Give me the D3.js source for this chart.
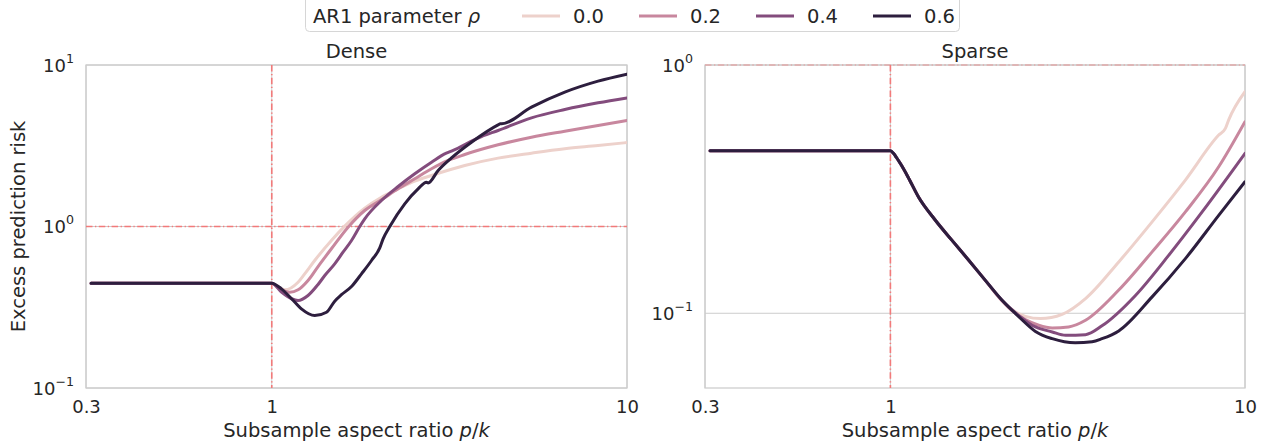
<!DOCTYPE html>
<html>
<head>
<meta charset="utf-8">
<script src="https://cdn.jsdelivr.net/npm/d3@7"></script>
<style>
  html, body { margin: 0; padding: 0; background: #fff; }
  svg { display: block; font-family: "DejaVu Sans", sans-serif; }
</style>
</head>
<body>
<svg id="chart" width="1273" height="446"></svg>
<script>
// ---------------- data ----------------
const rhoLabels = ["0.0", "0.2", "0.4", "0.6"];
const xTicks = [0.3, 1, 10];
const xTickLabels = ["0.3", "1", "10"];
const denseYTicks = [0.1, 1, 10];
const denseYExps = ["\u22121", "0", "1"];
const sparseYTicks = [0.1, 1];
const sparseYExps = ["\u22121", "0"];

// Dense panel: [p/k, excess risk]
const dense00 = [[0.31,0.446],[1.0,0.446],[1.02,0.4375],[1.088,0.4055],[1.186,0.452],[1.238,0.509],[1.321,0.616],[1.472,0.819],[1.605,1.005],[1.827,1.299],[2.036,1.519],[2.268,1.711],[2.527,1.909],[2.817,2.07],[3.494,2.386],[4.336,2.65],[5.384,2.845],[6.682,3.03],[8.29,3.17],[10,3.31]];
const dense02 = [[0.31,0.446],[1.0,0.446],[1.053,0.411],[1.124,0.392],[1.186,0.4055],[1.265,0.463],[1.35,0.565],[1.472,0.728],[1.64,0.99],[1.827,1.256],[2.036,1.463],[2.268,1.711],[2.527,1.974],[2.817,2.277],[3.135,2.563],[3.494,2.791],[4.336,3.205],[5.384,3.573],[6.682,3.89],[8.29,4.22],[10,4.54]];
const dense04 = [[0.31,0.446],[1.0,0.446],[1.065,0.392],[1.137,0.357],[1.186,0.348],[1.265,0.374],[1.35,0.4375],[1.41,0.497],[1.504,0.587],[1.587,0.693],[1.677,0.819],[1.769,1.0],[1.827,1.116],[2.036,1.449],[2.268,1.769],[2.527,2.119],[2.817,2.5],[3.10,2.843],[3.206,2.928],[3.894,3.608],[4.336,3.93],[5.384,4.71],[6.682,5.30],[8.29,5.83],[10,6.25]];
const dense06 = [[0.31,0.446],[1.0,0.446],[1.065,0.411],[1.137,0.357],[1.212,0.309],[1.321,0.281],[1.426,0.2947],[1.504,0.345],[1.571,0.378],[1.677,0.425],[1.789,0.509],[1.909,0.616],[2.014,0.738],[2.058,0.839],[2.149,1.0],[2.368,1.382],[2.582,1.711],[2.726,1.882],[2.755,1.862],[2.94,2.222],[3.206,2.66],[3.649,3.327],[4.336,4.26],[4.40,4.33],[4.44,4.33],[5.384,5.48],[6.682,6.79],[8.29,7.94],[10,8.78]];

// Sparse panel: [p/k, excess risk]
const sparse00 = [[0.31,0.451],[1.0,0.451],[1.02,0.441],[1.04,0.424],[1.07,0.398],[1.12,0.355],[1.2,0.294],[1.339,0.237],[1.49,0.197],[1.663,0.1636],[1.85,0.136],[2.02,0.116],[2.20,0.1035],[2.403,0.0972],[2.65,0.0952],[3.05,0.099],[3.55,0.1146],[4.405,0.161],[5.47,0.2335],[6.79,0.344],[8.43,0.522],[8.805,0.5553],[8.99,0.60],[10,0.781]];
const sparse02 = [[0.31,0.451],[1.0,0.451],[1.02,0.441],[1.04,0.424],[1.07,0.398],[1.12,0.355],[1.2,0.294],[1.339,0.237],[1.49,0.197],[1.663,0.1636],[1.85,0.136],[2.04,0.1145],[2.22,0.1015],[2.403,0.0943],[2.62,0.0895],[2.86,0.0873],[3.18,0.0881],[3.55,0.0937],[4.405,0.124],[5.47,0.1767],[6.79,0.256],[8.43,0.389],[10,0.591]];
const sparse04 = [[0.31,0.451],[1.0,0.451],[1.02,0.441],[1.04,0.424],[1.07,0.398],[1.12,0.355],[1.2,0.294],[1.339,0.237],[1.49,0.197],[1.663,0.1636],[1.85,0.136],[2.065,0.1128],[2.30,0.098],[2.509,0.0895],[2.86,0.0841],[3.12,0.0815],[3.55,0.082],[3.95,0.089],[4.91,0.118],[6.09,0.171],[7.57,0.256],[10,0.4405]];
const sparse06 = [[0.31,0.451],[1.0,0.451],[1.02,0.441],[1.04,0.424],[1.07,0.398],[1.12,0.355],[1.2,0.294],[1.339,0.237],[1.49,0.197],[1.663,0.1636],[1.85,0.136],[2.065,0.1128],[2.30,0.097],[2.565,0.0845],[2.86,0.079],[3.32,0.0760],[3.706,0.0768],[3.95,0.079],[4.405,0.0849],[5.47,0.1164],[6.79,0.166],[8.43,0.248],[10,0.3386]];

const colors = ["#edd1cb", "#c8879e", "#834c7d", "#2d1e3e"];

// ---------------- drawing ----------------
const svg = d3.select("#chart");
const textColor = "#262626";
const gridColor = "#cccccc";
const refColor = "#f27a7a";
const tickFont = 18;
const labelFont = 19.5;

const panels = [
  { title: "Dense", x0: 86, x1: 627, y0: 65, y1: 388, yDomain: [0.1, 10],
    yTicks: denseYTicks, yExps: denseYExps, series: [dense00, dense02, dense04, dense06], ylabel: true },
  { title: "Sparse", x0: 705, x1: 1245, y0: 65, y1: 388, yDomain: [0.05, 1],
    yTicks: sparseYTicks, yExps: sparseYExps, series: [sparse00, sparse02, sparse04, sparse06], ylabel: false }
];

panels.forEach((p, pi) => {
  const x = d3.scaleLog().domain([0.3, 10]).range([p.x0, p.x1]);
  const y = d3.scaleLog().domain(p.yDomain).range([p.y1, p.y0]);
  const g = svg.append("g");

  const clipId = "clip" + pi;
  svg.append("clipPath").attr("id", clipId).append("rect")
    .attr("x", p.x0).attr("y", p.y0).attr("width", p.x1 - p.x0).attr("height", p.y1 - p.y0);

  // grid lines
  g.append("g").selectAll("line.gx").data(xTicks).join("line")
    .attr("x1", d => x(d)).attr("x2", d => x(d)).attr("y1", p.y0).attr("y2", p.y1)
    .attr("stroke", gridColor).attr("stroke-width", 1);
  g.append("g").selectAll("line.gy").data(p.yTicks).join("line")
    .attr("x1", p.x0).attr("x2", p.x1).attr("y1", d => y(d)).attr("y2", d => y(d))
    .attr("stroke", gridColor).attr("stroke-width", 1);

  // spines
  g.append("rect").attr("x", p.x0).attr("y", p.y0)
    .attr("width", p.x1 - p.x0).attr("height", p.y1 - p.y0)
    .attr("fill", "none").attr("stroke", gridColor).attr("stroke-width", 1.25);

  // reference lines at x=1, y=1
  g.append("line").attr("x1", x(1)).attr("x2", x(1)).attr("y1", p.y0).attr("y2", p.y1)
    .attr("stroke", refColor).attr("stroke-width", 1.6).attr("stroke-dasharray", "6.5,2.5,1.3,2.5")
    .attr("opacity", 1);
  g.append("line").attr("x1", p.x0).attr("x2", p.x1).attr("y1", y(1)).attr("y2", y(1))
    .attr("stroke", refColor).attr("stroke-width", 1.6).attr("stroke-dasharray", "6.5,2.5,1.3,2.5")
    .attr("opacity", pi === 1 ? 0.45 : 1);

  // curves
  const line = d3.line().x(d => x(d[0])).y(d => y(d[1])).curve(d3.curveMonotoneX);
  g.append("g").attr("clip-path", `url(#${clipId})`)
    .selectAll("path").data(p.series).join("path")
    .attr("d", line).attr("fill", "none")
    .attr("stroke", (d, i) => colors[i]).attr("stroke-width", 3)
    .attr("stroke-linejoin", "round").attr("stroke-linecap", "round");

  // x tick labels
  const xAxis = d3.axisBottom(x).tickValues(xTicks).tickSize(0).tickPadding(0)
    .tickFormat((d, i) => xTickLabels[i]);
  const xa = g.append("g").attr("transform", `translate(0,${p.y1 + 25})`).call(xAxis);
  xa.select(".domain").remove();
  xa.selectAll("text").attr("fill", textColor).attr("font-size", tickFont)
    .attr("font-family", "DejaVu Sans").attr("dy", 0);

  // y tick labels with superscripts
  const yAxis = d3.axisLeft(y).tickValues(p.yTicks).tickSize(0).tickPadding(0).tickFormat(() => "");
  const ya = g.append("g").attr("transform", `translate(${p.x0 - 12},0)`).call(yAxis);
  ya.select(".domain").remove();
  ya.selectAll(".tick text").each(function(d, i) {
    const t = d3.select(this).attr("fill", textColor).attr("font-size", tickFont)
      .attr("font-family", "DejaVu Sans").attr("dy", "0.36em").attr("text-anchor", "end");
    t.append("tspan").text("10");
    t.append("tspan").attr("font-size", tickFont * 0.7).attr("dy", "-0.75em").text(p.yExps[i]);
  });

  // title
  g.append("text").attr("x", (p.x0 + p.x1) / 2).attr("y", p.y0 - 7)
    .attr("text-anchor", "middle").attr("fill", textColor).attr("font-size", labelFont)
    .text(p.title);

  // x label
  const xl = g.append("text").attr("x", (p.x0 + p.x1) / 2).attr("y", p.y1 + 49)
    .attr("text-anchor", "middle").attr("fill", textColor).attr("font-size", labelFont);
  xl.append("tspan").text("Subsample aspect ratio ");
  xl.append("tspan").attr("font-style", "italic").text("p");
  xl.append("tspan").text("/");
  xl.append("tspan").attr("font-style", "italic").text("k");

  if (p.ylabel) {
    g.append("text").attr("transform", `translate(25,${(p.y0 + p.y1) / 2}) rotate(-90)`)
      .attr("text-anchor", "middle").attr("fill", textColor).attr("font-size", labelFont)
      .text("Excess prediction risk");
  }
});

// legend
const lg = svg.append("g");
lg.append("rect").attr("x", 305.5).attr("y", -4).attr("width", 654).attr("height", 35.5)
  .attr("rx", 4).attr("fill", "white").attr("stroke", "#d6d6d6").attr("stroke-width", 1);
const lt = lg.append("text").attr("x", 313).attr("y", 23).attr("fill", textColor).attr("font-size", labelFont);
lt.append("tspan").text("AR1 parameter ");
lt.append("tspan").attr("font-style", "italic").text("\u03c1");
const items = lg.selectAll("g.item").data(rhoLabels).join("g")
  .attr("transform", (d, i) => `translate(${522 + i * 117},0)`);
items.append("line").attr("x1", 0).attr("x2", 38).attr("y1", 16).attr("y2", 16)
  .attr("stroke", (d, i) => colors[i]).attr("stroke-width", 3);
items.append("text").attr("x", 51).attr("y", 23).attr("fill", textColor)
  .attr("font-size", labelFont).text(d => d);
</script>
</body>
</html>
